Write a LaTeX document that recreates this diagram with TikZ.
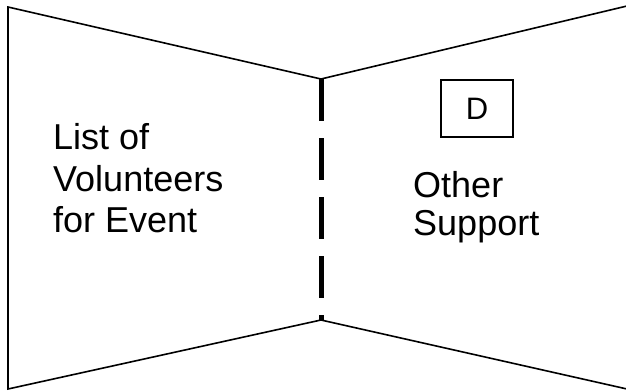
\documentclass[tikz,border=0pt]{standalone}
\usepackage{fontspec}
\setmainfont{Liberation Sans}
\begin{document}
\begin{tikzpicture}[x=1pt,y=-1pt,
  outline/.style={line width=1.6pt, line join=miter},
  divider/.style={line width=5pt, dash pattern=on 42pt off 17pt},
  label/.style={anchor=base west, inner sep=0pt, font=\fontsize{36}{41}\selectfont},
  tag/.style={draw, line width=1.6pt, minimum width=72pt, minimum height=57pt, inner sep=0pt, font=\fontsize{31}{36}\selectfont}]
\useasboundingbox (0,0) rectangle (626,391);
\coordinate (tl) at (8,7);
\coordinate (bl) at (8,389);
\coordinate (ct) at (321,79);
\coordinate (cb) at (321,320);
\coordinate (tr) at (627,6);
\coordinate (br) at (627,389);
\draw[outline] (ct) -- (tl) -- (bl) -- (cb);
\draw[outline] (ct) -- (tr);
\draw[outline] (cb) -- (br);
\draw[divider] (ct) -- (cb);
\node[tag] (d) at (477,108.5) {D};
\node[label] (l1) at (53,149) {List of};
\node[label] (l2) at (53,191) {Volunteers};
\node[label] (l3) at (53,232) {for Event};
\node[label] (r1) at (413,197) {Other};
\node[label] (r2) at (413,235) {Support};
\end{tikzpicture}
\end{document}
